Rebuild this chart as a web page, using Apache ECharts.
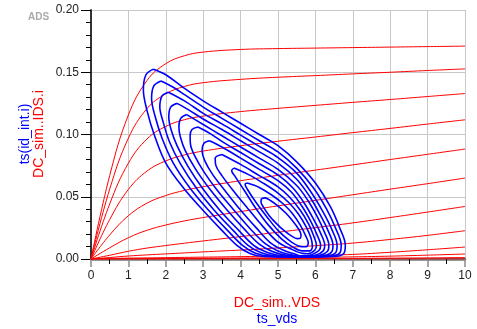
<!DOCTYPE html>
<html>
<head>
<meta charset="utf-8">
<script src="https://cdn.jsdelivr.net/npm/echarts@6/dist/echarts.min.js"></script>
<style>
html,body{margin:0;padding:0;background:#fff;}
#chart{width:477px;height:329px;}
</style>
</head>
<body>
<div id="chart"></div>
<script>
// ---- data ----
const xTicks = [0,1,2,3,4,5,6,7,8,9,10];
const yTicks = [0.00,0.05,0.10,0.15,0.20];

// DC sweep: VDS values shared by all red IV curves
const vdsSweep = [0,0.5,1,1.5,2,2.5,3,4,5,6,7,8,9,10];
const ids1  = [0,0.0670,0.1157,0.1435,0.1569,0.1633,0.1662,0.1683,0.1690,0.1694,0.1698,0.1702,0.1706,0.1710];
const ids2  = [0,0.0561,0.0971,0.1209,0.1327,0.1386,0.1416,0.1443,0.1460,0.1473,0.1487,0.1500,0.1514,0.1527];
const ids3  = [0,0.0442,0.0770,0.0965,0.1065,0.1119,0.1148,0.1184,0.1210,0.1234,0.1258,0.1281,0.1305,0.1329];
const ids4  = [0,0.0317,0.0559,0.0707,0.0788,0.0836,0.0867,0.0910,0.0946,0.0980,0.1015,0.1049,0.1084,0.1118];
const ids5  = [0,0.0193,0.0348,0.0449,0.0510,0.0551,0.0581,0.0629,0.0672,0.0714,0.0756,0.0799,0.0841,0.0883];
const ids6  = [0,0.0090,0.0171,0.0231,0.0273,0.0306,0.0333,0.0381,0.0427,0.0471,0.0516,0.0561,0.0605,0.0650];
const ids7  = [0,0.0030,0.0062,0.0088,0.0108,0.0127,0.0145,0.0180,0.0215,0.0252,0.0290,0.0333,0.0377,0.0422];
const ids8  = [0,0.0012,0.0024,0.0033,0.0041,0.0049,0.0057,0.0072,0.0089,0.0107,0.0128,0.0157,0.0190,0.0227];
const ids9  = [0,0.0004,0.0007,0.0009,0.0011,0.0013,0.0015,0.0019,0.0024,0.0029,0.0037,0.0054,0.0074,0.0096];
const ids10 = [0,0.0001,0.0002,0.0003,0.0004,0.0005,0.0006,0.0008,0.0010,0.0013,0.0017,0.0023,0.0031,0.0040];
const ids11 = [0,0,0.0001,0.0001,0.0001,0.0001,0.0002,0.0002,0.0003,0.0004,0.0005,0.0007,0.0009,0.0012];
const ids12 = [0,0,0,0,0,0,0,0,0,0,0,0,0,0];

// time-domain trajectories (ts_vds, ts(id_int.i)), one closed loop per drive level
const loop1 = [[1.67,0.1525],[2.0,0.148],[2.5,0.137],[3.0,0.127],[3.5,0.118],[4.0,0.109],[4.5,0.100],[5.0,0.091],[5.5,0.078],[6.0,0.061],[6.4,0.042],[6.65,0.025],[6.8,0.011],[6.76,0.0045],[6.5,0.002],[5.5,0.0015],[4.6,0.002],[4.25,0.0045],[3.9,0.011],[3.5,0.023],[3.0,0.039],[2.5,0.056],[2.0,0.077],[1.7,0.099],[1.5,0.119],[1.4,0.136],[1.47,0.148],[1.67,0.1525]];
const loop2 = [[1.87,0.143],[2.2,0.138],[2.5,0.132],[3.0,0.122],[3.5,0.113],[4.0,0.104],[4.5,0.095],[5.0,0.086],[5.5,0.073],[5.95,0.057],[6.3,0.040],[6.55,0.024],[6.69,0.011],[6.65,0.0047],[6.4,0.0022],[5.6,0.0016],[4.8,0.0022],[4.4,0.0047],[4.05,0.011],[3.65,0.023],[3.15,0.039],[2.67,0.056],[2.2,0.077],[1.9,0.097],[1.71,0.115],[1.62,0.129],[1.68,0.139],[1.87,0.143]];
const loop3 = [[2.07,0.134],[2.5,0.127],[3.0,0.117],[3.5,0.1085],[4.0,0.0995],[4.5,0.0905],[5.0,0.0815],[5.5,0.069],[5.9,0.053],[6.2,0.038],[6.45,0.023],[6.58,0.011],[6.54,0.005],[6.3,0.0024],[5.6,0.0017],[4.95,0.0024],[4.55,0.005],[4.2,0.011],[3.8,0.023],[3.3,0.039],[2.84,0.056],[2.4,0.076],[2.1,0.094],[1.92,0.111],[1.84,0.122],[1.9,0.131],[2.07,0.134]];
const loop4 = [[2.3,0.125],[2.6,0.12],[3.0,0.1125],[3.5,0.104],[4.0,0.095],[4.5,0.086],[5.0,0.077],[5.5,0.064],[5.85,0.050],[6.12,0.036],[6.35,0.022],[6.47,0.011],[6.43,0.0055],[6.2,0.0026],[5.6,0.0018],[5.1,0.0026],[4.7,0.0055],[4.35,0.011],[3.95,0.023],[3.45,0.039],[3.0,0.056],[2.6,0.074],[2.3,0.091],[2.14,0.104],[2.08,0.114],[2.13,0.122],[2.3,0.125]];
const loop5 = [[2.56,0.116],[3.0,0.108],[3.5,0.099],[4.0,0.090],[4.5,0.081],[5.0,0.072],[5.5,0.059],[5.8,0.047],[6.05,0.034],[6.25,0.021],[6.36,0.011],[6.32,0.006],[6.1,0.0028],[5.6,0.002],[5.25,0.0028],[4.85,0.006],[4.5,0.012],[4.1,0.024],[3.62,0.040],[3.18,0.056],[2.8,0.072],[2.52,0.087],[2.39,0.098],[2.35,0.106],[2.4,0.113],[2.56,0.116]];
const loop6 = [[2.86,0.106],[3.2,0.1005],[3.5,0.0945],[4.0,0.0855],[4.5,0.0765],[5.0,0.0675],[5.4,0.057],[5.7,0.045],[5.95,0.032],[6.15,0.020],[6.25,0.011],[6.21,0.0065],[6.0,0.003],[5.6,0.0022],[5.4,0.003],[5.0,0.0065],[4.65,0.0125],[4.25,0.0245],[3.8,0.040],[3.38,0.055],[3.02,0.070],[2.77,0.083],[2.66,0.092],[2.65,0.099],[2.7,0.104],[2.86,0.106]];
const loop7 = [[3.17,0.095],[3.5,0.090],[4.0,0.081],[4.5,0.072],[5.0,0.063],[5.35,0.054],[5.65,0.042],[5.88,0.030],[6.05,0.019],[6.14,0.011],[6.1,0.007],[5.9,0.0035],[5.6,0.0025],[5.5,0.0035],[5.15,0.007],[4.8,0.013],[4.42,0.025],[3.98,0.040],[3.58,0.055],[3.25,0.068],[3.04,0.079],[2.97,0.087],[3.02,0.093],[3.17,0.095]];
const loop8 = [[3.5,0.084],[4.0,0.076],[4.5,0.067],[5.0,0.058],[5.3,0.050],[5.6,0.039],[5.82,0.028],[5.96,0.018],[6.03,0.011],[5.98,0.007],[5.8,0.0042],[5.65,0.0045],[5.35,0.008],[4.98,0.014],[4.6,0.026],[4.18,0.041],[3.8,0.055],[3.5,0.067],[3.34,0.075],[3.32,0.081],[3.5,0.084]];
const loop9 = [[3.82,0.073],[4.2,0.068],[4.6,0.061],[5.0,0.053],[5.3,0.045],[5.55,0.036],[5.75,0.026],[5.88,0.017],[5.92,0.010],[5.85,0.0065],[5.65,0.0065],[5.4,0.0095],[5.1,0.016],[4.75,0.027],[4.4,0.041],[4.1,0.055],[3.86,0.066],[3.76,0.071],[3.82,0.073]];
const loop10 = [[4.18,0.061],[4.5,0.0575],[4.85,0.051],[5.15,0.044],[5.4,0.036],[5.6,0.027],[5.75,0.018],[5.81,0.013],[5.75,0.0098],[5.55,0.0105],[5.3,0.015],[5.0,0.023],[4.7,0.034],[4.4,0.046],[4.18,0.056],[4.12,0.06],[4.18,0.061]];
const loop11 = [[4.556,0.0484],[4.647,0.0491],[4.806,0.0468],[5.003,0.0425],[5.214,0.0367],[5.404,0.0302],[5.55,0.0241],[5.615,0.0194],[5.6,0.0167],[5.513,0.0164],[5.356,0.0186],[5.157,0.0229],[4.947,0.0288],[4.756,0.0352],[4.615,0.0414],[4.545,0.046],[4.556,0.0484]];

// ---- build chart ----
const FONT = '"Liberation Sans", Arial, Helvetica, sans-serif';
const ivCurves = [ids1,ids2,ids3,ids4,ids5,ids6,ids7,ids8,ids9,ids10,ids11,ids12];
const loops = [loop1,loop2,loop3,loop4,loop5,loop6,loop7,loop8,loop9,loop10,loop11];

const series = [];
ivCurves.forEach(function(c){
  series.push({
    type:'line', data: vdsSweep.map(function(v,i){return [v,c[i]];}),
    showSymbol:false, smooth:0.4, silent:true,
    lineStyle:{color:'#ff0000', width:1}, z:2
  });
});
loops.forEach(function(l){
  series.push({
    type:'line', data:l, showSymbol:false, smooth:0.35, silent:true,
    lineStyle:{color:'#0000ff', width:1.6}, z:3
  });
});

const chart = echarts.init(document.getElementById('chart'), null, {renderer:'canvas'});
chart.setOption({
  animation:false,
  backgroundColor:'#ffffff',
  grid:{left:91, right:12, top:10, bottom:70},
  xAxis:[{
    type:'value', min:xTicks[0], max:xTicks[xTicks.length-1], interval:1,
    axisLine:{show:true, onZero:false, lineStyle:{color:'#000', width:1.5}},
    axisTick:{show:true, length:8, lineStyle:{color:'#8a8a8a', width:1.5}},
    minorTick:{show:true, splitNumber:2, length:5, lineStyle:{color:'#000', width:1}},
    axisLabel:{margin:11, fontSize:12, color:'#222', fontFamily:FONT,
      formatter:function(v){return String(v);}},
    splitLine:{show:true, lineStyle:{color:'#c8c8c8', width:1}}
  },{
    type:'value', position:'top', min:0, max:10,
    axisLine:{show:true, lineStyle:{color:'#777', width:2.5}},
    axisTick:{show:false}, axisLabel:{show:false}, splitLine:{show:false}
  }],
  yAxis:[{
    type:'value', min:yTicks[0], max:yTicks[yTicks.length-1], interval:0.05,
    axisLine:{show:true, onZero:false, lineStyle:{color:'#000', width:1.5}},
    axisTick:{show:true, length:10, lineStyle:{color:'#000', width:1}},
    minorTick:{show:true, splitNumber:5, length:5, lineStyle:{color:'#000', width:1}},
    axisLabel:{margin:12, fontSize:12, color:'#222', fontFamily:FONT,
      formatter:function(v){return v.toFixed(2);}},
    splitLine:{show:true, lineStyle:{color:'#c8c8c8', width:1}}
  },{
    type:'value', position:'right', min:0, max:0.2,
    axisLine:{show:true, lineStyle:{color:'#333', width:1.5}},
    axisTick:{show:false}, axisLabel:{show:false}, splitLine:{show:false}
  }],
  graphic:[
    {type:'text', x:38.5, y:17.5, style:{text:'ADS', fill:'#aaaaaa', font:'bold 10px '+FONT, align:'center', verticalAlign:'middle'}},
    {type:'text', x:32, y:134, rotation:Math.PI/2,
      style:{text:'{b|ts(id_int.i)}\n{r|DC_sim..IDS.i}', align:'center', verticalAlign:'middle',
        rich:{b:{fill:'#0000ff', fontSize:14, fontFamily:FONT, lineHeight:14, align:'center'},
              r:{fill:'#ff0000', fontSize:14, fontFamily:FONT, lineHeight:14, align:'center'}}}},
    {type:'text', x:277, y:311,
      style:{text:'{r|DC_sim..VDS}\n{b|ts_vds}', align:'center', verticalAlign:'middle',
        rich:{b:{fill:'#0000ff', fontSize:14, fontFamily:FONT, lineHeight:16, align:'center'},
              r:{fill:'#ff0000', fontSize:14, fontFamily:FONT, lineHeight:16, align:'center'}}}}
  ],
  series:series
});
</script>
</body>
</html>
